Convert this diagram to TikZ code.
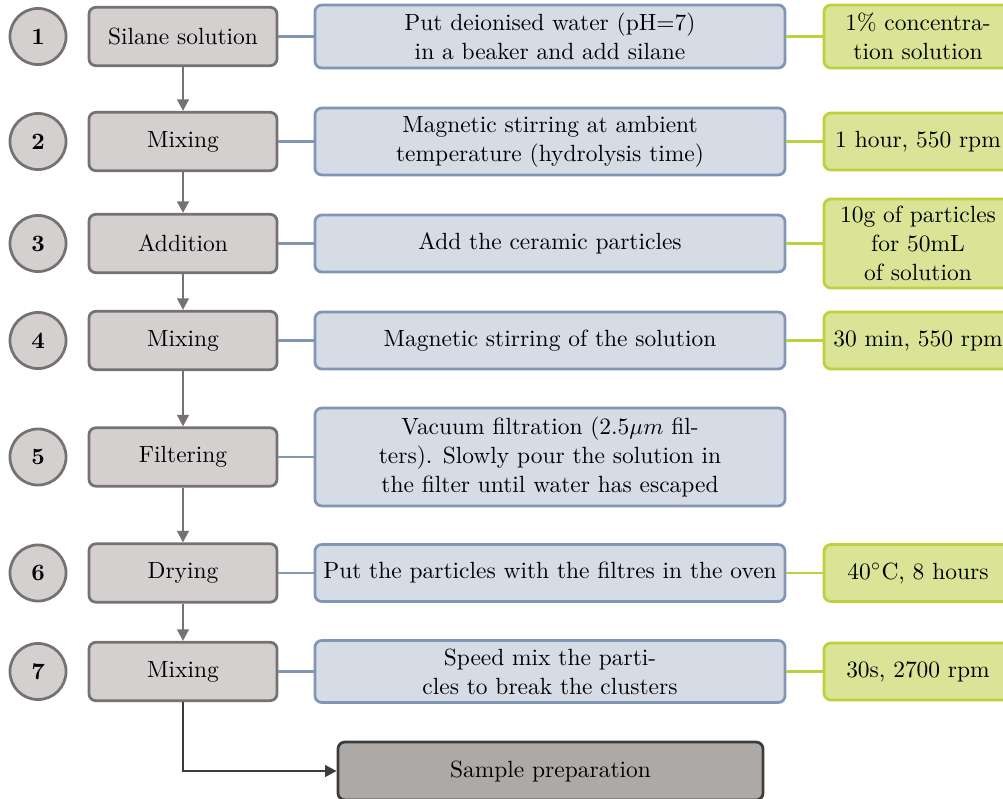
\documentclass[tikz,border=0pt]{standalone}
\usetikzlibrary{arrows.meta}
\definecolor{gfill}{RGB}{212,208,208}
\definecolor{gline}{RGB}{118,114,114}
\definecolor{bfill}{RGB}{214,220,230}
\definecolor{bline}{RGB}{128,150,180}
\definecolor{vfill}{RGB}{218,228,150}
\definecolor{vline}{RGB}{190,208,60}
\definecolor{sfill}{RGB}{173,169,167}
\definecolor{sline}{RGB}{60,60,60}
\tikzset{
  every node/.style={font=\fontsize{10.2}{12.6}\selectfont},
  num/.style={circle,draw=gline,fill=gfill,line width=1.2pt,minimum size=24.4pt,inner sep=0pt,font=\fontsize{10.2}{12.6}\selectfont\bfseries},
  stepbox/.style={draw=gline,fill=gfill,line width=1.2pt,rounded corners=3pt,minimum width=81.8pt,minimum height=25.4pt,inner sep=2pt,align=center},
  descbox/.style={draw=bline,fill=bfill,line width=1.2pt,rounded corners=3pt,minimum width=204.5pt,minimum height=24.8pt,inner sep=2pt,align=center},
  parbox/.style={draw=vline,fill=vfill,line width=1.2pt,rounded corners=3pt,minimum width=81.8pt,minimum height=24.8pt,inner sep=2pt,align=center},
  endbox/.style={draw=sline,fill=sfill,line width=1.2pt,rounded corners=3pt,minimum width=184.9pt,minimum height=25.2pt,inner sep=2pt,align=center},
  flow/.style={draw=gline,line width=1.1pt,-{Triangle[length=5pt,width=5pt]}},
  blink/.style={draw=bline,line width=1.1pt},
  vlink/.style={draw=vline,line width=1.1pt},
  endflow/.style={draw=sline,line width=1.1pt,-{Triangle[length=5pt,width=5pt]}},
}
\begin{document}
\begin{tikzpicture}[x=0.435pt,y=-0.435pt]
\useasboundingbox (0,0) rectangle (1003,798);
\clip (0,0) rectangle (1003,798);
% numbers
\node[num] (n1) at (38,36.5) {1};
\node[num] (n2) at (38,141.5) {2};
\node[num] (n3) at (38,243.5) {3};
\node[num] (n4) at (38,340.5) {4};
\node[num] (n5) at (38,457) {5};
\node[num] (n6) at (38,573) {6};
\node[num] (n7) at (38,671.5) {7};
% steps
\node[stepbox] (s1) at (183,36.5) {Silane solution};
\node[stepbox] (s2) at (183,141.5) {Mixing};
\node[stepbox] (s3) at (183,243.5) {Addition};
\node[stepbox] (s4) at (183,340.5) {Mixing};
\node[stepbox] (s5) at (183,457) {Filtering};
\node[stepbox] (s6) at (183,573) {Drying};
\node[stepbox] (s7) at (183,671.5) {Mixing};
% descriptions
\node[descbox,minimum height=27.4pt] (d1) at (550,36.5) {Put deionised water (pH=7)\\in a beaker and add silane};
\node[descbox,minimum height=29.1pt] (d2) at (550,141.5) {Magnetic stirring at ambient\\temperature (hydrolysis time)};
\node[descbox] (d3) at (550,243.5) {Add the ceramic particles};
\node[descbox] (d4) at (550,340.5) {Magnetic stirring of the solution};
\node[descbox,minimum height=42.6pt] (d5) at (550,457) {Vacuum filtration (2.5$\mu m$ fil-\\ters). Slowly pour the solution in\\the filter until water has escaped};
\node[descbox] (d6) at (550,573) {Put the particles with the filtres in the oven};
\node[descbox,minimum height=27pt] (d7) at (550,671.5) {Speed mix the parti-\\cles to break the clusters};
% parameters
\node[parbox,minimum height=27.4pt] (p1) at (918,36.5) {1\% concentra-\\tion solution};
\node[parbox] (p2) at (918,141.5) {1 hour, 550 rpm};
\node[parbox,minimum height=38.7pt] (p3) at (918,243.5) {10g of particles\\for 50mL\\of solution};
\node[parbox] (p4) at (918,340.5) {30 min, 550 rpm};
\node[parbox] (p6) at (918,573) {40$^\circ$C, 8 hours};
\node[parbox] (p7) at (918,671.5) {30s, 2700 rpm};
% final
\node[endbox] (sp) at (550.5,771) {Sample preparation};
% flow arrows
\draw[flow] (s1) -- (s2);
\draw[flow] (s2) -- (s3);
\draw[flow] (s3) -- (s4);
\draw[flow] (s4) -- (s5);
\draw[flow] (s5) -- (s6);
\draw[flow] (s6) -- (s7);
\draw[endflow] (s7.south) |- (sp.west);
% links
\foreach \i in {1,...,7} { \draw[blink] (s\i.east) -- (d\i.west); }
\foreach \i in {1,2,3,4,6,7} { \draw[vlink] (d\i.east) -- (p\i.west); }
\end{tikzpicture}
\end{document}
